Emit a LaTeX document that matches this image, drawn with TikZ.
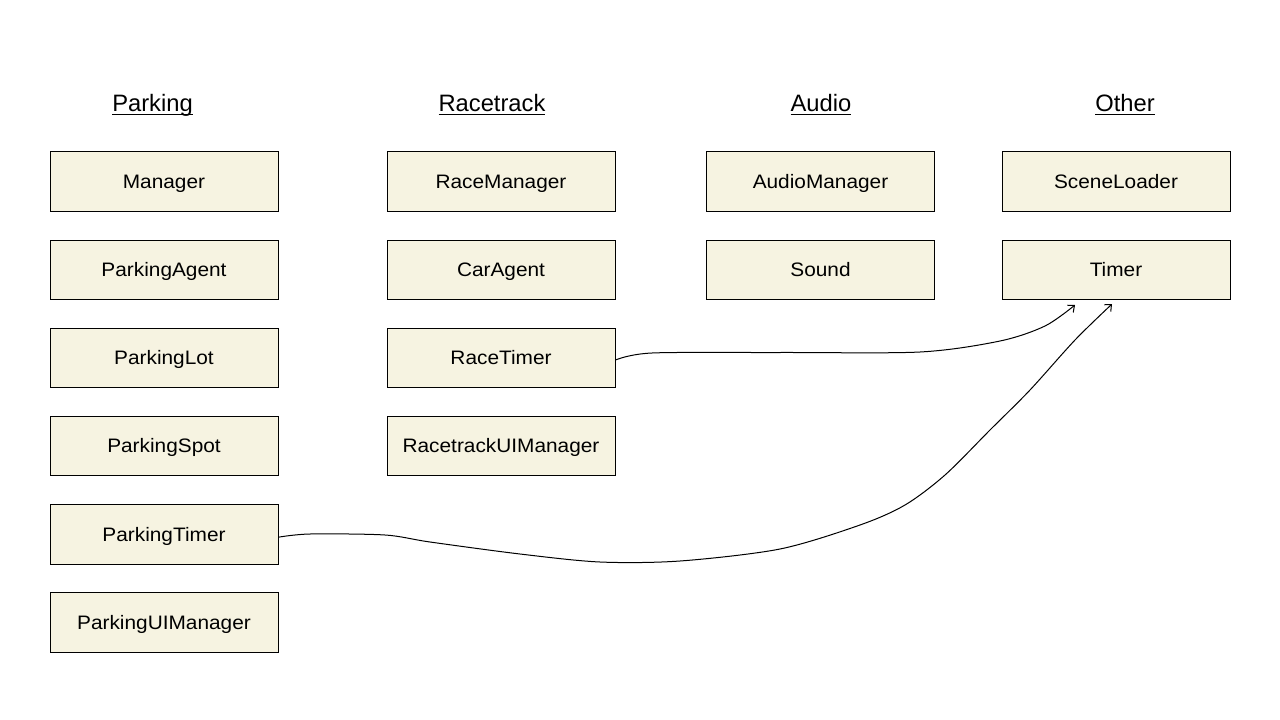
\documentclass[tikz,border=0pt]{standalone}
\usepackage{fontspec}
\setmainfont{Liberation Sans}
\newfontfamily\boxfont[FakeStretch=1.07]{Liberation Sans}
\usetikzlibrary{arrows.meta}
\definecolor{boxfill}{HTML}{F6F3E1}
\tikzset{
  cls/.style={draw=black, line width=0.75pt, fill=boxfill, minimum width=171pt, minimum height=44.5pt, inner sep=0pt, text height=13.2pt, text depth=3.2pt, font=\boxfont\fontsize{14.6}{17}\selectfont},
  head/.style={font=\fontsize{17.8}{21}\selectfont, inner sep=0pt, anchor=base},
  conn/.style={draw=black, line width=0.75pt, -{Straight Barb[length=4pt,width=7pt]}}
}
\newcommand{\hd}[1]{\setbox0\hbox{#1}\rlap{\rule[-2.3pt]{\wd0}{0.8pt}}\box0}
\begin{document}
\begin{tikzpicture}[x=0.75pt, y=-0.75pt]
\useasboundingbox (0,0) rectangle (1280,720);
% headings
\node[head] (hp) at (152.5,112) {\hd{Parking}};
\node[head] (hr) at (492,112) {\hd{Racetrack}};
\node[head] (ha) at (821,112) {\hd{Audio}};
\node[head] (ho) at (1125,112) {\hd{Other}};
% Parking column
\node[cls] (mgr) at (164,181.5) {Manager};
\node[cls] (pa) at (164,270) {ParkingAgent};
\node[cls] (pl) at (164,358) {ParkingLot};
\node[cls] (ps) at (164,446) {ParkingSpot};
\node[cls] (pt) at (164,534.5) {ParkingTimer};
\node[cls] (pui) at (164,622.5) {ParkingUIManager};
% Racetrack column
\node[cls] (rm) at (501,181.5) {RaceManager};
\node[cls] (ca) at (501,270) {CarAgent};
\node[cls] (rt) at (501,358) {RaceTimer};
\node[cls] (rui) at (501,446) {RacetrackUIManager};
% Audio column
\node[cls] (am) at (820.5,181.5) {AudioManager};
\node[cls] (snd) at (820.5,270) {Sound};
% Other column
\node[cls] (sl) at (1116,181.5) {SceneLoader};
\node[cls] (tm) at (1116,270) {Timer};
% connector ends
\coordinate (e1) at (1075,305);
\coordinate (e2) at (1112,304);
% connectors
\draw[conn] plot[smooth, tension=0.5] coordinates {([yshift=-1.5pt]rt.east) (652,353) (780,352.5) (920,352) (1000,341) (1045,326) (e1)};
\draw[conn] plot[smooth, tension=0.5] coordinates {([yshift=-2pt]pt.east) (310,534) (385,535) (430,542) (520,554) (600,562) (680,561) (780,549) (860,525) (905,505) (945,475) (990,430) (1030,390) (1075,340) (e2)};
\end{tikzpicture}
\end{document}
